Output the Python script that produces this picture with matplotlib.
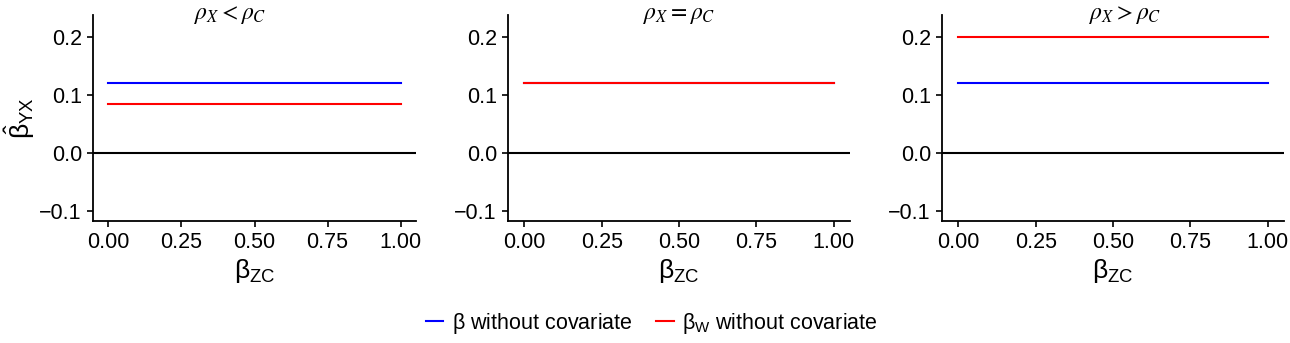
import matplotlib
matplotlib.use("Agg")
import matplotlib.pyplot as plt
from matplotlib.lines import Line2D

plt.rcParams['font.family'] = ['Liberation Sans', 'DejaVu Sans']
plt.rcParams['mathtext.fontset'] = 'custom'
plt.rcParams['mathtext.rm'] = 'Liberation Sans'
plt.rcParams['mathtext.it'] = 'Liberation Sans:italic'
plt.rcParams['mathtext.sf'] = 'Liberation Sans'

titles = [r'$\rho_X < \rho_C$', r'$\rho_X = \rho_C$', r'$\rho_X > \rho_C$']
beta_zc = [0.0, 1.0]
beta_no_cov = [0.12, 0.12, 0.12]
beta_w_no_cov = [0.085, 0.12, 0.20]
xticks = [0.00, 0.25, 0.50, 0.75, 1.00]
xticklabels = ['0.00', '0.25', '0.50', '0.75', '1.00']
yticks = [-0.1, 0.0, 0.1, 0.2]
yticklabels = ['\u22120.1', '0.0', '0.1', '0.2']

W, H = 1290, 343
fig = plt.figure(figsize=(W / 100, H / 100), dpi=100)

panels_px = [(93, 416), (508, 850), (942, 1284)]
title_x_px = [230, 679, 1125]
top_px, bot_px = 15, 221
blue = '#0000FF'
red = '#FF0000'

for i, (l, r) in enumerate(panels_px):
    ax = fig.add_axes([l / W, (H - bot_px) / H, (r - l) / W, (bot_px - top_px) / H])
    ax.axhline(0, color='black', lw=1.5, zorder=1)
    ax.plot(beta_zc, [beta_no_cov[i]] * 2, color=blue, lw=1.5, zorder=2)
    ax.plot(beta_zc, [beta_w_no_cov[i]] * 2, color=red, lw=1.5, zorder=3)
    ax.set_xlim(-0.053, 1.053)
    ax.set_ylim(-0.117, 0.238)
    ax.set_xticks(xticks)
    ax.set_xticklabels(xticklabels)
    ax.set_yticks(yticks)
    ax.set_yticklabels(yticklabels)
    for s in ['top', 'right']:
        ax.spines[s].set_visible(False)
    for s in ['left', 'bottom']:
        ax.spines[s].set_linewidth(1.3)
    ax.tick_params(labelsize=15.5, length=4, width=1.2, colors='black', pad=4)
    ax.set_xlabel(r'$\mathrm{β}_{\mathrm{ZC}}$', fontsize=19, labelpad=3)
    fig.text(title_x_px[i] / W, 1 - 14 / H, titles[i], ha='center', va='center',
             fontsize=17, family='DejaVu Serif', math_fontfamily='stix')
    if i == 0:
        ax.set_ylabel(r'$\hat{\mathrm{β}}_{\mathrm{YX}}$', fontsize=19, labelpad=2)

handles = [Line2D([], [], color=blue, lw=1.5), Line2D([], [], color=red, lw=1.5)]
labels = [r'$\mathrm{β}$ without covariate', r'$\mathrm{β}_{\mathrm{W}}$ without covariate']
fig.legend(handles, labels, loc='center', bbox_to_anchor=(652 / W, 1 - 323 / H), ncol=2,
           frameon=False, fontsize=15.5, handlelength=0.8, handletextpad=0.4,
           columnspacing=1.1)

fig.savefig('out.png', dpi=100)
